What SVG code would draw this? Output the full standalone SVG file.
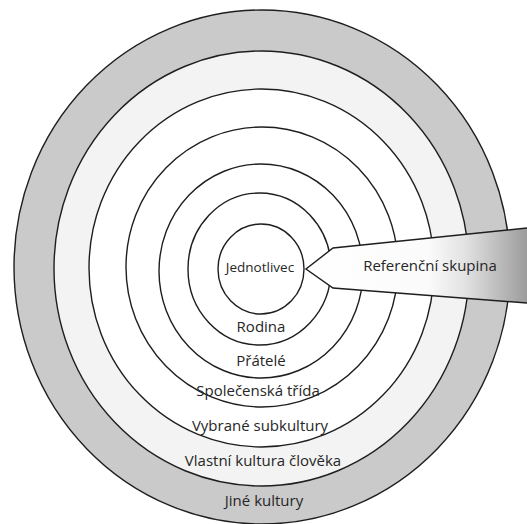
<svg xmlns="http://www.w3.org/2000/svg" width="527" height="524" viewBox="0 0 527 524">
  <defs>
    <linearGradient id="wedgeGrad" x1="306" y1="0" x2="527" y2="0" gradientUnits="userSpaceOnUse">
      <stop offset="0" stop-color="#ffffff"/>
      <stop offset="0.55" stop-color="#fbfbfb"/>
      <stop offset="0.72" stop-color="#e2e2e2"/>
      <stop offset="1" stop-color="#9c9c9c"/>
    </linearGradient>
    <filter id="grain" x="0" y="0" width="100%" height="100%">
      <feTurbulence type="fractalNoise" baseFrequency="0.9" numOctaves="2" seed="3" result="n"/>
      <feColorMatrix in="n" type="matrix" values="0 0 0 0 0.5  0 0 0 0 0.5  0 0 0 0 0.5  0 0 0 0.35 0" result="g"/>
      <feComposite in="g" in2="SourceGraphic" operator="in" result="gm"/>
      <feMerge><feMergeNode in="SourceGraphic"/><feMergeNode in="gm"/></feMerge>
    </filter>
  </defs>
  <style>
    .ring { fill: none; stroke: #1e1e1e; stroke-width: 1.4; }
    .lbl { font-family: "Open Sans", "Noto Sans", "DejaVu Sans", sans-serif; font-size: 15px; fill: #262626; text-anchor: middle; }
    .wedge { stroke: #1e1e1e; stroke-width: 1.4; stroke-linejoin: miter; }
  </style>
  <rect width="527" height="524" fill="#ffffff"/>

  <!-- shaded bands -->
  <g id="bands">
    <path d="M262,10 A248,257 0 1,0 262.01,10 Z M261.5,51 A207.5,217.5 0 1,1 261.49,51 Z" fill="#cdcdcd" fill-rule="evenodd" filter="url(#grain)"/>
    <path d="M261.5,51 A207.5,217.5 0 1,0 261.51,51 Z M261.5,89 A172.5,179 0 1,1 261.49,89 Z" fill="#f3f3f3" fill-rule="evenodd"/>
  </g>

  <g id="jine-kultury">
    <ellipse class="ring" cx="262" cy="267" rx="248" ry="257"/>
    <text class="lbl" x="264" y="506">Jiné kultury</text>
  </g>
  <g id="vlastni-kultura">
    <ellipse class="ring" cx="261.5" cy="268.5" rx="207.5" ry="217.5"/>
    <text class="lbl" x="263" y="466">Vlastní kultura člověka</text>
  </g>
  <g id="vybrane-subkultury">
    <ellipse class="ring" cx="261.5" cy="268" rx="172.5" ry="179"/>
    <text class="lbl" x="260" y="431">Vybrané subkultury</text>
  </g>
  <g id="spolecenska-trida">
    <ellipse class="ring" cx="262" cy="267" rx="136" ry="140"/>
    <text class="lbl" x="258" y="396">Společenská třída</text>
  </g>
  <g id="pratele">
    <ellipse class="ring" cx="261" cy="271" rx="102" ry="107"/>
    <text class="lbl" x="261" y="366">Přátelé</text>
  </g>
  <g id="rodina">
    <ellipse class="ring" cx="259.5" cy="269" rx="71.5" ry="76"/>
    <text class="lbl" x="261" y="332">Rodina</text>
  </g>
  <g id="jednotlivec">
    <ellipse class="ring" cx="261" cy="269" rx="43" ry="45"/>
    <text class="lbl" x="260" y="272" style="font-size:13.5px">Jednotlivec</text>
  </g>

  <g id="referencni-skupina">
    <polygon points="306,269 333,248 527,228 527,303 333,288" fill="url(#wedgeGrad)" stroke="none"/>
    <polyline class="wedge" fill="none" points="527,228 333,248 306,269 333,288 527,303"/>
    <text class="lbl" x="430" y="271">Referenční skupina</text>
  </g>
</svg>
